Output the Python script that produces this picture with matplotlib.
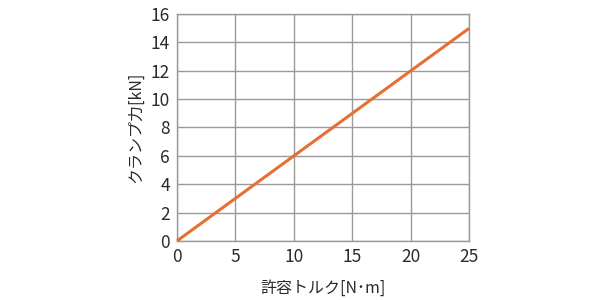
import matplotlib
matplotlib.use("Agg")
import matplotlib.pyplot as plt

plt.rcParams['font.family'] = ['Noto Sans CJK JP', 'DejaVu Sans']

torque = [0, 25]
clamp = [0, 15]
xticks = [0, 5, 10, 15, 20, 25]
yticks = [0, 2, 4, 6, 8, 10, 12, 14, 16]

fig = plt.figure(figsize=(6, 3), dpi=100)
ax = fig.add_axes([0.295, 0.197, 0.487, 0.756])
ax.plot(torque, clamp, color='#E56F35', lw=2.2, solid_capstyle='butt', zorder=3, clip_on=False)
ax.set_xlim(0, 25)
ax.set_ylim(0, 16)
ax.set_xticks(xticks)
ax.set_yticks(yticks)
ax.grid(True, color='#9a9a9a', lw=1.0)
for s in ax.spines.values():
    s.set_color('#9a9a9a')
    s.set_linewidth(1.0)
ax.tick_params(length=0, labelsize=12.5, colors='#2a2a2a', pad=5)
ax.set_xlabel('許容トルク[N･m]', fontsize=11.5, color='#2a2a2a', labelpad=10)
ax.set_ylabel('クランプ力[kN]', fontsize=11.5, color='#2a2a2a', labelpad=5)
fig.savefig('out.png', dpi=100)
